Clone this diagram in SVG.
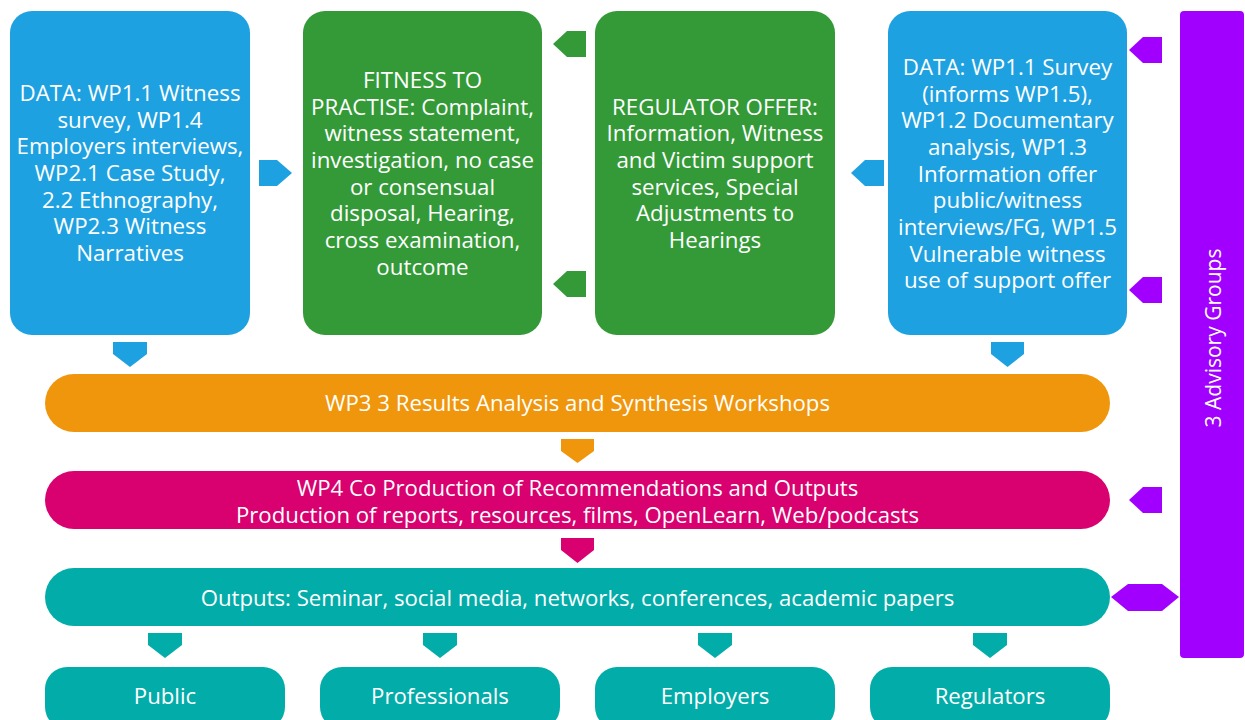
<svg xmlns="http://www.w3.org/2000/svg" width="1245" height="720" viewBox="0 0 1245 720">
<style>
.t{font-family:"Open Sans","Noto Sans","Liberation Sans",sans-serif;fill:#fff;text-anchor:middle;dominant-baseline:central}
.b{font-size:22.3px}
.s{font-size:22.2px}
.v{font-size:21px}
.blue{fill:#1EA1E1}.green{fill:#349A38}.orange{fill:#F0960C}.mag{fill:#D9006F}.teal{fill:#02ACA8}.purp{fill:#A100FF}
</style>
<rect width="1245" height="720" fill="#fff"/>
<g id="connectors">
  <polygon class="blue" points="259,160 277,160 292,173 277,186 259,186"/>
  <polygon class="green" points="586,31 567,31 553,44 567,57 586,57"/>
  <polygon class="green" points="586,271 567,271 553,284 567,297 586,297"/>
  <polygon class="blue" points="884,160 865,160 851,173 865,186 884,186"/>
  <polygon class="purp" points="1162,37 1143,37 1129,50 1143,63 1162,63"/>
  <polygon class="purp" points="1162,277 1143,277 1129,290 1143,303 1162,303"/>
  <polygon class="purp" points="1162,487 1143,487 1129,500 1143,513 1162,513"/>
  <polygon class="purp" points="1111,597 1128,584 1162,584 1179,597 1162,611 1128,611"/>
  <polygon class="blue" points="113,342 147,342 147,354 130,367 113,354"/>
  <polygon class="blue" points="991,342 1024,342 1024,354 1007.5,367 991,354"/>
  <polygon class="orange" points="561,439 594,439 594,451 577.5,463 561,451"/>
  <polygon class="mag" points="561,538 594,538 594,550 577.5,563 561,550"/>
  <polygon class="teal" points="148,633 182,633 182,645 165,658 148,645"/>
  <polygon class="teal" points="423,633 457,633 457,645 440,658 423,645"/>
  <polygon class="teal" points="698,633 732,633 732,645 715,658 698,645"/>
  <polygon class="teal" points="973,633 1007,633 1007,645 990,658 973,645"/>
</g>
<g id="node-data1">
  <rect class="blue" x="10" y="11" width="240" height="324" rx="22"/>
  <text class="t b" x="130"><tspan x="130" y="92">DATA: WP1.1 Witness</tspan><tspan x="130" y="118.7">survey, WP1.4</tspan><tspan x="130" y="145.4">Employers interviews,</tspan><tspan x="130" y="172">WP2.1 Case Study,</tspan><tspan x="130" y="198.7">2.2 Ethnography,</tspan><tspan x="130" y="225.4">WP2.3 Witness</tspan><tspan x="130" y="252">Narratives</tspan></text>
</g>
<g id="node-fitness">
  <rect class="green" x="303" y="11" width="239" height="324" rx="22"/>
  <text class="t b"><tspan x="422.5" y="79">FITNESS TO</tspan><tspan x="422.5" y="105.7">PRACTISE: Complaint,</tspan><tspan x="422.5" y="132.4">witness statement,</tspan><tspan x="422.5" y="159">investigation, no case</tspan><tspan x="422.5" y="185.7">or consensual</tspan><tspan x="422.5" y="212.4">disposal, Hearing,</tspan><tspan x="422.5" y="239">cross examination,</tspan><tspan x="422.5" y="265.7">outcome</tspan></text>
</g>
<g id="node-regulator">
  <rect class="green" x="595" y="11" width="240" height="324" rx="22"/>
  <text class="t b"><tspan x="715" y="105.7">REGULATOR OFFER:</tspan><tspan x="715" y="132.4">Information, Witness</tspan><tspan x="715" y="159">and Victim support</tspan><tspan x="715" y="185.7">services, Special</tspan><tspan x="715" y="212.4">Adjustments to</tspan><tspan x="715" y="239">Hearings</tspan></text>
</g>
<g id="node-data2">
  <rect class="blue" x="888" y="11" width="239" height="324" rx="22"/>
  <text class="t b"><tspan x="1007.5" y="66">DATA: WP1.1 Survey</tspan><tspan x="1007.5" y="92.7">(informs WP1.5),</tspan><tspan x="1007.5" y="119.4">WP1.2 Documentary</tspan><tspan x="1007.5" y="146">analysis, WP1.3</tspan><tspan x="1007.5" y="172.7">Information offer</tspan><tspan x="1007.5" y="199.4">public/witness</tspan><tspan x="1007.5" y="226">interviews/FG, WP1.5</tspan><tspan x="1007.5" y="252.7">Vulnerable witness</tspan><tspan x="1007.5" y="279.4">use of support offer</tspan></text>
</g>
<g id="node-advisory">
  <rect class="purp" x="1180" y="11" width="64" height="647" rx="4"/>
  <text class="t v" transform="translate(1213,338) rotate(-90)" x="0" y="0">3 Advisory Groups</text>
</g>
<g id="node-wp3">
  <rect class="orange" x="45" y="374" width="1065" height="58" rx="29"/>
  <text class="t s" x="577.5" y="402">WP3 3 Results Analysis and Synthesis Workshops</text>
</g>
<g id="node-wp4">
  <rect class="mag" x="45" y="471" width="1065" height="58" rx="29"/>
  <text class="t s"><tspan x="577.5" y="487">WP4 Co Production of Recommendations and Outputs</tspan><tspan x="577.5" y="514">Production of reports, resources, films, OpenLearn, Web/podcasts</tspan></text>
</g>
<g id="node-outputs">
  <rect class="teal" x="45" y="568" width="1065" height="58" rx="29"/>
  <text class="t s" x="577.5" y="597">Outputs: Seminar, social media, networks, conferences, academic papers</text>
</g>
<g id="node-public">
  <rect class="teal" x="45" y="667" width="240" height="62" rx="22"/>
  <text class="t s" x="165" y="695">Public</text>
</g>
<g id="node-professionals">
  <rect class="teal" x="320" y="667" width="240" height="62" rx="22"/>
  <text class="t s" x="440" y="695">Professionals</text>
</g>
<g id="node-employers">
  <rect class="teal" x="595" y="667" width="240" height="62" rx="22"/>
  <text class="t s" x="715" y="695">Employers</text>
</g>
<g id="node-regulators">
  <rect class="teal" x="870" y="667" width="240" height="62" rx="22"/>
  <text class="t s" x="990" y="695">Regulators</text>
</g>
</svg>
